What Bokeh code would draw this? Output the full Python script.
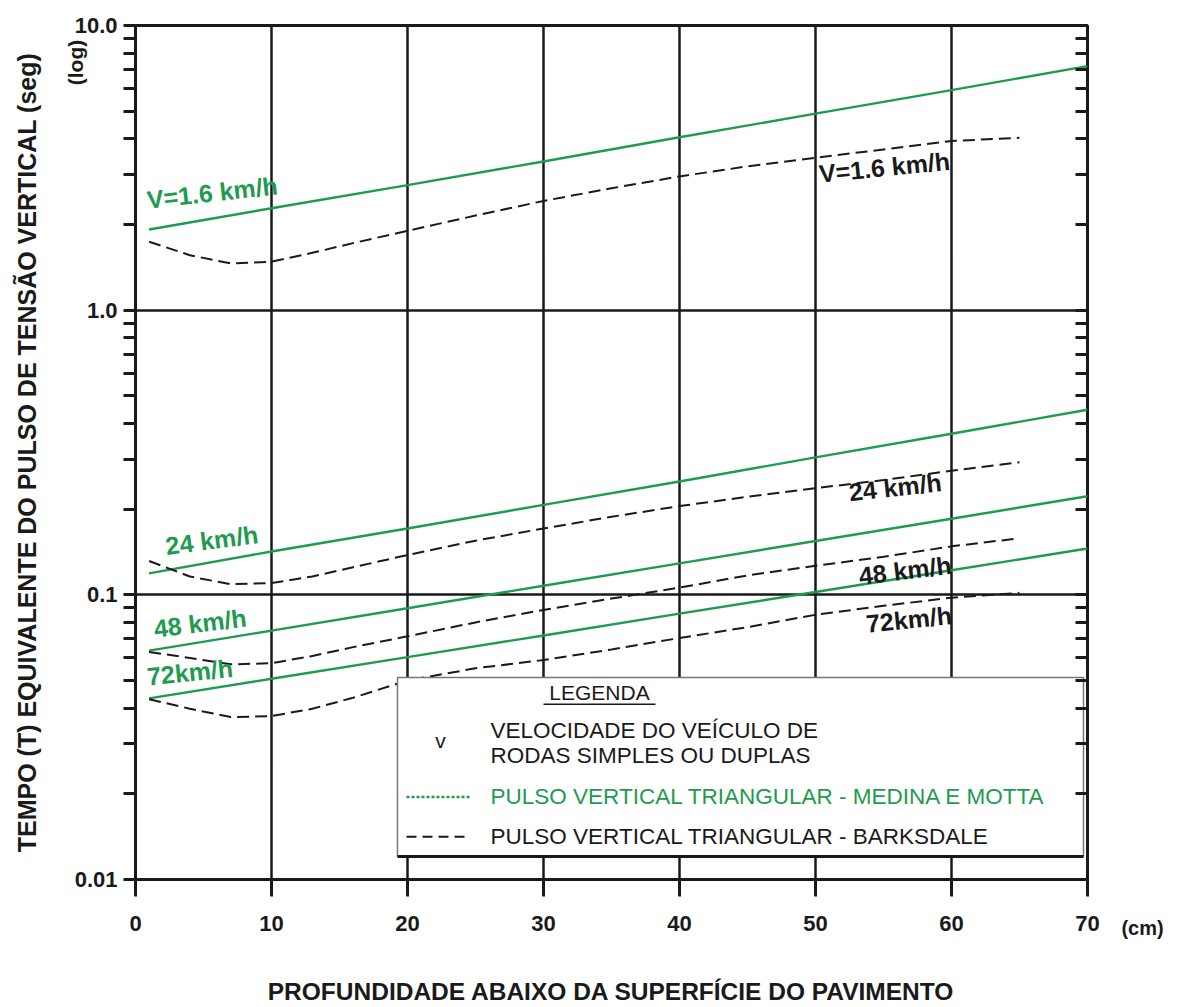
from bokeh.plotting import figure
from bokeh.models import FixedTicker, LogAxis, Range1d, Label
from bokeh.core.properties import value
from bokeh.embed import file_html
from bokeh.resources import INLINE

# ---------------- data ----------------
x_medina = [1, 10, 20, 30, 40, 50, 60, 70]
medina_1_6 = [1.92, 2.28, 2.75, 3.33, 4.05, 4.90, 5.93, 7.20]
medina_24 = [0.119, 0.142, 0.171, 0.207, 0.250, 0.304, 0.368, 0.447]
medina_48 = [0.0637, 0.0749, 0.0897, 0.1076, 0.129, 0.1545, 0.185, 0.222]
medina_72 = [0.0433, 0.0507, 0.0604, 0.0720, 0.0859, 0.1023, 0.122, 0.1455]

x_barksdale = [1, 4, 7, 10, 13, 16, 20, 25, 30, 35, 40, 45, 50, 55, 60, 65]
barksdale_1_6 = [1.74, 1.56, 1.46, 1.48, 1.59, 1.72, 1.90, 2.15, 2.42, 2.68, 2.95, 3.20, 3.43, 3.67, 3.93, 4.03]
barksdale_24 = [0.1315, 0.116, 0.109, 0.110, 0.116, 0.125, 0.138, 0.155, 0.171, 0.188, 0.205, 0.221, 0.237, 0.253, 0.273, 0.292]
barksdale_48 = [0.0630, 0.0600, 0.0570, 0.0575, 0.0610, 0.0655, 0.0715, 0.0800, 0.0885, 0.0970, 0.1060, 0.1170, 0.1265, 0.1360, 0.1480, 0.1580]
barksdale_72 = [0.0430, 0.0398, 0.0372, 0.0375, 0.0398, 0.0435, 0.0500, 0.0552, 0.0590, 0.0643, 0.0705, 0.0770, 0.0851, 0.0915, 0.0977, 0.1016]

x_ticks = [0, 10, 20, 30, 40, 50, 60, 70]
y_major_ticks = [0.01, 0.1, 1, 10]
y_major_labels = ["0.01", "0.1", "1.0", "10.0"]
y_minor_ticks = [m * d for d in (0.01, 0.1, 1) for m in range(2, 10)]

medina_labels = ["V=1.6 km/h", "24 km/h", "48 km/h", "72km/h"]
barksdale_labels = ["V=1.6 km/h", "24 km/h", "48 km/h", "72km/h"]

y_title = "TEMPO (T) EQUIVALENTE DO PULSO DE TENSÃO VERTICAL (seg)"
x_title = "PROFUNDIDADE ABAIXO DA SUPERFÍCIE DO PAVIMENTO"
y_unit = "(log)"
x_unit = "(cm)"
legend_title = "LEGENDA"
legend_v = "v"
legend_v_lines = ["VELOCIDADE DO VEÍCULO DE", "RODAS SIMPLES OU DUPLAS"]
legend_medina = "PULSO VERTICAL TRIANGULAR - MEDINA E MOTTA"
legend_barksdale = "PULSO VERTICAL TRIANGULAR - BARKSDALE"

# ---------------- style ----------------
GREEN = "#1f9a4f"
INK = "#1a1a1a"
FONT = "Liberation Sans"

FL, FR, FT, FB = 135, 1087, 25, 883   # frame edges in canvas pixels
RIGHT_AXIS_W = 5                      # approx. width of the label-less right axis panel

# layout helpers: canvas pixel -> data coordinates
def dx(px):
    return (px - FL) / ((FR - FL) / 70)

def dy(py):
    return 10 ** (1 - 3 * (py - FT) / (FB - FT))

p = figure(width=1180, height=1007, x_axis_type="linear", y_axis_type="log",
           x_range=Range1d(0, 70), y_range=Range1d(0.01, 10),
           output_backend="svg", toolbar_location=None,
           min_border_left=FL, min_border_right=1180 - FR, min_border_top=FT,
           min_border_bottom=1007 - FB)
p.background_fill_color = "white"
p.border_fill_color = "white"
p.outline_line_color = INK
p.outline_line_width = 3
p.outline_line_alpha = 1

# x axis
xa = p.xaxis[0]
xa.ticker = FixedTicker(ticks=x_ticks)
xa.axis_line_color = None
xa.major_tick_out = 17
xa.major_tick_in = 0
xa.major_tick_line_width = 3
xa.major_tick_line_color = INK
xa.minor_tick_line_color = None
xa.major_label_standoff = 19
xa.major_label_text_font = FONT
xa.major_label_text_font_style = "bold"
xa.major_label_text_font_size = "22px"
xa.major_label_text_color = INK
xa.axis_label = x_title
xa.axis_label_text_font = FONT
xa.axis_label_text_font_style = "bold"
xa.axis_label_text_font_size = "24.5px"
xa.axis_label_text_color = INK
xa.axis_label_standoff = 44

# y axis (left)
ya = p.yaxis[0]
ya.ticker = FixedTicker(ticks=y_major_ticks, minor_ticks=y_minor_ticks)
ya.major_label_overrides = {t: l for t, l in zip(y_major_ticks, y_major_labels)}
ya.axis_line_color = None
ya.major_tick_out = 12
ya.major_tick_in = 0
ya.minor_tick_out = 12
ya.minor_tick_in = 0
ya.major_tick_line_width = 3
ya.minor_tick_line_width = 3
ya.major_tick_line_color = INK
ya.minor_tick_line_color = INK
ya.major_label_standoff = 6
ya.major_label_text_font = FONT
ya.major_label_text_font_style = "bold"
ya.major_label_text_font_size = "22px"
ya.major_label_text_color = INK
ya.axis_label = y_title
ya.axis_label_text_font = FONT
ya.axis_label_text_font_style = "bold"
ya.axis_label_text_font_size = "25px"
ya.axis_label_text_color = INK
ya.axis_label_standoff = 31

# right axis with inward ticks
ra = LogAxis(ticker=FixedTicker(ticks=y_major_ticks, minor_ticks=y_minor_ticks))
ra.major_label_text_font_size = "0px"
ra.major_label_text_alpha = 0
ra.axis_line_color = None
ra.major_tick_in = 12
ra.major_tick_out = 0
ra.minor_tick_in = 12
ra.minor_tick_out = 0
ra.major_tick_line_width = 3
ra.minor_tick_line_width = 3
ra.major_tick_line_color = INK
ra.minor_tick_line_color = INK
p.add_layout(ra, "right")

# grid
p.xgrid.ticker = FixedTicker(ticks=[10, 20, 30, 40, 50, 60])
p.ygrid.ticker = FixedTicker(ticks=[0.1, 1])
p.xgrid.grid_line_color = INK
p.ygrid.grid_line_color = INK
p.xgrid.grid_line_width = 2.5
p.ygrid.grid_line_width = 2.5
p.xgrid.grid_line_alpha = 1
p.ygrid.grid_line_alpha = 1

# ---------------- curves ----------------
for ys in (medina_1_6, medina_24, medina_48, medina_72):
    p.line(x_medina, ys, line_color=GREEN, line_width=2.4)
for ys in (barksdale_1_6, barksdale_24, barksdale_48, barksdale_72):
    p.line(x_barksdale, ys, line_color=INK, line_width=2, line_dash="12 6")

# curve labels (canvas px of bottom-left corner, rotation in rad)
med_pos = [(148, 214, 0.11), (167, 562, 0.13), (155, 645, 0.12), (148, 693, 0.10)]
bark_pos = [(820, 188, 0.10), (850, 508, 0.11), (860, 592, 0.12), (867, 640, 0.10)]
for (px, py, ang), t in zip(med_pos, medina_labels):
    p.text(x=[dx(px)], y=[dy(py)], text=[t], angle=ang, text_font=value(FONT),
           text_font_style="bold", text_font_size="25px", text_color=GREEN,
           text_align="left", text_baseline="bottom")
for (px, py, ang), t in zip(bark_pos, barksdale_labels):
    p.text(x=[dx(px)], y=[dy(py)], text=[t], angle=ang, text_font=value(FONT),
           text_font_style="bold", text_font_size="25px", text_color=INK,
           text_align="left", text_baseline="bottom")

# ---------------- legend box ----------------
p.quad(left=[dx(397)], right=[dx(1083)], top=[dy(680)], bottom=[dy(860)],
       fill_color="white", line_color="#777777", line_width=1.5)
p.line([dx(397), dx(1083)], [dy(860), dy(860)], line_color=INK, line_width=3)
p.text(x=[dx(599)], y=[dy(695)], text=[legend_title], text_font=value(FONT),
       text_font_size="21px", text_color=INK, text_align="center", text_baseline="middle")
p.line([dx(543), dx(655)], [dy(707), dy(707)], line_color=INK, line_width=1.5)
p.text(x=[dx(440)], y=[dy(743)], text=[legend_v], text_font=value(FONT),
       text_font_size="21px", text_color=INK, text_align="center", text_baseline="middle")
p.text(x=[dx(490), dx(490)], y=[dy(733), dy(758)], text=legend_v_lines, text_font=value(FONT),
       text_font_size="22.5px", text_color=INK, text_align="left", text_baseline="middle")
p.line([dx(406), dx(470)], [dy(800), dy(800)], line_color=GREEN, line_width=2.5, line_dash="3 2")
p.text(x=[dx(490)], y=[dy(800)], text=[legend_medina], text_font=value(FONT),
       text_font_size="22.5px", text_color=GREEN, text_align="left", text_baseline="middle")
p.line([dx(406), dx(470)], [dy(840), dy(840)], line_color=INK, line_width=2, line_dash="10 6")
p.text(x=[dx(490)], y=[dy(840)], text=[legend_barksdale], text_font=value(FONT),
       text_font_size="22.5px", text_color=INK, text_align="left", text_baseline="middle")

# units: labels placed in side panels (not clipped to the frame).
# "(cm)" in the top panel: x from frame left, y upward from frame top.
p.add_layout(Label(x=1142 - FL, y=FT - 927, x_units="screen", y_units="screen", text=x_unit,
                   text_font=FONT, text_font_style="bold", text_font_size="20px",
                   text_color=INK, text_align="center", text_baseline="middle"), "above")
# "(log)" in the right panel: x from the panel's left edge, y upward from frame bottom.
p.add_layout(Label(x=80 - (FR + RIGHT_AXIS_W), y=FB - 66, x_units="screen", y_units="screen",
                   text=y_unit, angle=1.5708, text_font=FONT, text_font_style="bold",
                   text_font_size="21px", text_color=INK, text_align="center",
                   text_baseline="middle"), "right")

open("out.html", "w").write(file_html(p, INLINE))
